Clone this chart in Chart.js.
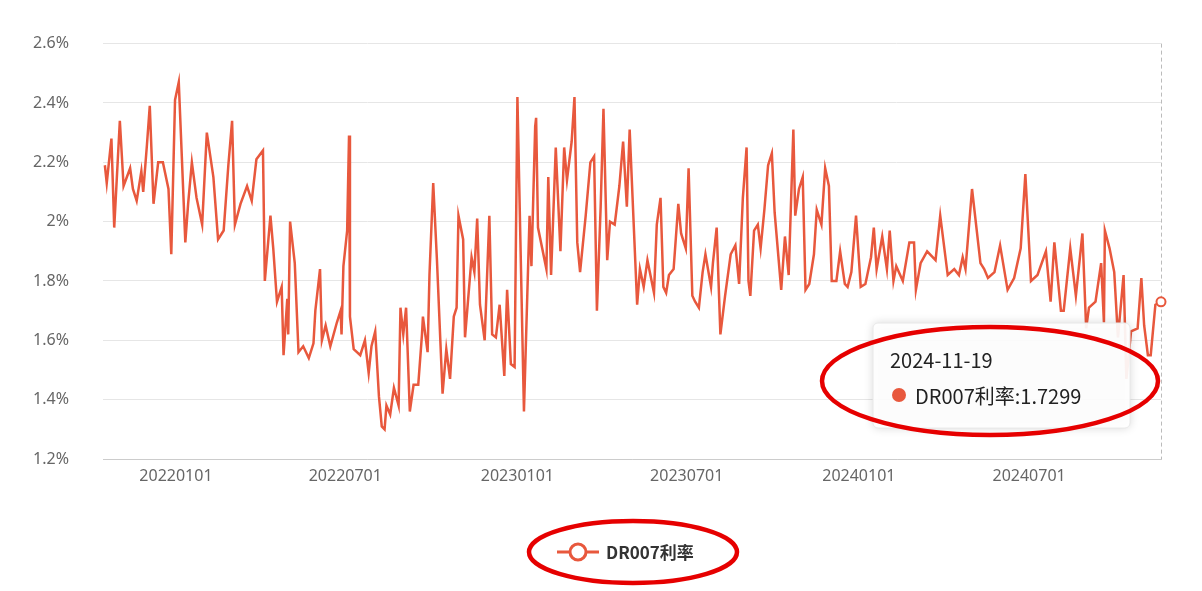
<!DOCTYPE html>
<html>
<head>
<meta charset="utf-8">
<script src="https://cdn.jsdelivr.net/npm/chart.js@4"></script>
<style>
  html, body { margin: 0; padding: 0; background: #fff; }
  #wrap { width: 1202px; height: 591px; }
</style>
</head>
<body>
<div id="wrap"><canvas id="chartDR" width="1202" height="591"></canvas></div>
<script>
const startDate = "2021-10-15";
const seriesName = "DR007利率";
const tickDates = ["20220101", "20220701", "20230101", "20230701", "20240101", "20240701"];
const lastLabel = "2024-11-19";
const lastValue = 1.7299;

// days after startDate
const dayOffsets = [
  2, 4, 9, 12, 18, 22, 29, 32, 36, 41, 43, 47, 50, 54, 59, 64, 70, 73, 77, 81,
  88, 91, 95, 100, 106, 111, 118, 123, 129, 134, 138, 141, 147, 154, 159, 164, 171, 173, 179, 182,
  186, 191, 193, 197, 198, 200, 205, 209, 214, 220, 225, 227, 232, 234, 238, 243, 250, 254, 255, 257,
  261, 263, 264, 268, 275, 280, 284, 287, 291, 295, 298, 301, 303, 307, 311, 316, 318, 321, 324, 328,
  332, 337, 341, 342, 347, 349, 353, 357, 363, 367, 371, 375, 378, 380, 385, 387, 394, 397, 400, 403,
  408, 413, 416, 420, 424, 429, 432, 436, 440, 443, 450, 456, 458, 462, 463, 465, 474, 476, 479, 484,
  489, 493, 496, 501, 504, 507, 510, 516, 521, 525, 528, 532, 535, 539, 542, 547, 552, 556, 560, 563,
  571, 574, 578, 582, 589, 592, 596, 599, 602, 605, 610, 615, 618, 623, 626, 630, 633, 637, 641, 644,
  650, 652, 656, 660, 665, 671, 676, 680, 684, 688, 690, 692, 696, 700, 703, 707, 711, 715, 718, 725,
  729, 733, 738, 740, 744, 748, 751, 755, 760, 763, 768, 772, 776, 779, 784, 788, 793, 796, 800, 805,
  810, 815, 821, 824, 827, 833, 838, 841, 845, 848, 855, 862, 867, 869, 874, 881, 890, 895, 903, 910,
  915, 919, 922, 929, 938, 942, 946, 953, 959, 967, 974, 981, 986, 992, 999, 1008, 1013, 1017, 1024, 1027,
  1034, 1040, 1047, 1051, 1054, 1061, 1067, 1070, 1071, 1076, 1081, 1085, 1091, 1094, 1099, 1106, 1110, 1113, 1117, 1120,
  1125, 1131
];

const rates = [
  2.19, 2.13, 2.28, 1.98, 2.34, 2.12, 2.18, 2.11, 2.07, 2.17, 2.10, 2.26, 2.39, 2.06, 2.20, 2.20, 2.11, 1.89, 2.41, 2.47,
  1.93, 2.06, 2.20, 2.08, 1.99, 2.30, 2.15, 1.94, 1.97, 2.19, 2.34, 1.99, 2.06, 2.12, 2.07, 2.21, 2.24, 1.80, 2.02, 1.91,
  1.73, 1.78, 1.55, 1.74, 1.62, 2.00, 1.86, 1.56, 1.58, 1.54, 1.59, 1.70, 1.84, 1.60, 1.65, 1.58, 1.66, 1.70, 1.62, 1.85,
  1.97, 2.29, 1.68, 1.57, 1.55, 1.60, 1.49, 1.58, 1.63, 1.41, 1.31, 1.30, 1.38, 1.35, 1.44, 1.38, 1.71, 1.62, 1.71, 1.36,
  1.45, 1.45, 1.62, 1.68, 1.56, 1.82, 2.13, 1.87, 1.42, 1.57, 1.47, 1.68, 1.71, 2.02, 1.94, 1.61, 1.88, 1.83, 2.01, 1.72,
  1.60, 2.02, 1.62, 1.61, 1.72, 1.48, 1.77, 1.52, 1.51, 2.42, 1.36, 2.02, 1.85, 2.32, 2.35, 1.98, 1.84, 2.15, 1.82, 2.25,
  1.90, 2.25, 2.14, 2.27, 2.42, 1.93, 1.83, 2.02, 2.20, 2.22, 1.70, 2.05, 2.38, 1.87, 2.00, 1.99, 2.12, 2.27, 2.05, 2.31,
  1.72, 1.84, 1.78, 1.87, 1.76, 1.99, 2.08, 1.78, 1.76, 1.82, 1.84, 2.06, 1.96, 1.91, 2.18, 1.75, 1.73, 1.71, 1.83, 1.89,
  1.78, 1.86, 1.98, 1.62, 1.75, 1.89, 1.92, 1.79, 2.08, 2.25, 1.80, 1.75, 1.97, 1.99, 1.91, 2.04, 2.19, 2.23, 2.03, 1.77,
  1.95, 1.82, 2.31, 2.02, 2.11, 2.15, 1.77, 1.79, 1.89, 2.04, 1.99, 2.18, 2.12, 1.80, 1.80, 1.90, 1.79, 1.78, 1.83, 2.02,
  1.78, 1.79, 1.88, 1.98, 1.84, 1.95, 1.84, 1.97, 1.80, 1.85, 1.80, 1.93, 1.93, 1.77, 1.86, 1.90, 1.87, 2.02, 1.82, 1.84,
  1.82, 1.88, 1.84, 2.11, 1.86, 1.84, 1.81, 1.83, 1.92, 1.77, 1.81, 1.91, 2.16, 1.80, 1.82, 1.90, 1.73, 1.93, 1.70, 1.70,
  1.91, 1.75, 1.96, 1.64, 1.71, 1.73, 1.86, 1.66, 1.97, 1.91, 1.83, 1.61, 1.82, 1.47, 1.63, 1.64, 1.81, 1.65, 1.55, 1.55,
  1.72, lastValue
];

const lineColor = "#e8583d";
const DAY = 86400000;
const t0 = new Date(startDate + "T00:00:00Z").getTime();
function offsetOf(s) {
  const d = Date.UTC(+s.slice(0, 4), +s.slice(4, 6) - 1, +s.slice(6, 8));
  return Math.round((d - t0) / DAY);
}
const tickOffsets = tickDates.map(offsetOf);
const points = dayOffsets.map((d, i) => ({ x: d, y: rates[i] }));
const lastIdx = points.length - 1;

// tooltip, legend and red marks drawn by hand
const overlay = {
  id: "overlay",
  afterDraw(chart) {
    const c = chart.ctx;
    const area = chart.chartArea;
    const px = chart.scales.x.getPixelForValue(points[lastIdx].x);
    const py = chart.scales.y.getPixelForValue(points[lastIdx].y);

    // dashed crosshair
    c.save();
    c.strokeStyle = "#bbb";
    c.setLineDash([4, 3]);
    c.lineWidth = 1;
    c.beginPath();
    c.moveTo(px + 0.5, area.top);
    c.lineTo(px + 0.5, area.bottom);
    c.stroke();
    c.restore();

    // hover point
    c.save();
    c.fillStyle = "#fff";
    c.strokeStyle = lineColor;
    c.lineWidth = 2;
    c.beginPath();
    c.arc(px, py, 4.5, 0, Math.PI * 2);
    c.fill();
    c.stroke();
    c.restore();

    // tooltip box
    const bx = 873, by = 323, bw = 257, bh = 105;
    c.save();
    c.shadowColor = "rgba(0,0,0,0.18)";
    c.shadowBlur = 10;
    c.fillStyle = "rgba(255,255,255,0.92)";
    c.beginPath();
    c.roundRect(bx, by, bw, bh, 5);
    c.fill();
    c.restore();
    c.save();
    c.strokeStyle = "#e8e8e8";
    c.beginPath();
    c.roundRect(bx, by, bw, bh, 5);
    c.stroke();
    c.fillStyle = "#222";
    c.font = "20px 'Noto Sans CJK SC', 'Noto Sans'";
    c.textBaseline = "middle";
    c.fillText(lastLabel, 890, 360);
    c.fillStyle = lineColor;
    c.beginPath();
    c.arc(899, 395, 7, 0, Math.PI * 2);
    c.fill();
    c.fillStyle = "#222";
    c.fillText(seriesName + ":" + lastValue.toFixed(4), 915, 396);
    c.restore();

    // legend
    const lx = 583, ly = 552;
    c.save();
    c.strokeStyle = lineColor;
    c.lineWidth = 3;
    c.beginPath();
    c.moveTo(lx - 26, ly);
    c.lineTo(lx + 16, ly);
    c.stroke();
    c.fillStyle = "#fff";
    c.beginPath();
    c.arc(lx - 5, ly, 8, 0, Math.PI * 2);
    c.fill();
    c.stroke();
    c.fillStyle = "#333";
    c.font = "bold 17px 'Noto Sans CJK SC', 'Noto Sans'";
    c.textBaseline = "middle";
    c.fillText(seriesName, 606, ly + 1);
    c.restore();

    // red ellipses
    c.save();
    c.strokeStyle = "#e60000";
    c.lineWidth = 4.5;
    c.beginPath();
    c.ellipse(990, 381, 168, 54, 0, 0, Math.PI * 2);
    c.stroke();
    c.beginPath();
    c.ellipse(633, 552, 104, 31, 0, 0, Math.PI * 2);
    c.stroke();
    c.restore();
  },
};

new Chart(document.getElementById("chartDR"), {
  type: "line",
  data: {
    datasets: [
      {
        label: seriesName,
        data: points,
        borderColor: lineColor,
        borderWidth: 2.5,
        pointRadius: 0,
        tension: 0,
        fill: false,
      },
    ],
  },
  options: {
    responsive: false,
    animation: false,
    maintainAspectRatio: false,
    layout: { padding: { top: 13, right: 41, left: 0, bottom: 0 } },
    plugins: { legend: { display: false }, tooltip: { enabled: false } },
    scales: {
      x: {
        type: "linear",
        min: 0,
        max: dayOffsets[lastIdx],
        afterFit: (s) => { s.height = 132; },
        afterBuildTicks: (s) => { s.ticks = tickOffsets.map((v) => ({ value: v })); },
        ticks: {
          color: "#666",
          font: { size: 16, family: "'Noto Sans', sans-serif" },
          padding: 8,
          maxRotation: 0,
          callback: (v) => tickDates[tickOffsets.indexOf(v)],
        },
        grid: { display: false, drawTicks: false },
        border: { color: "#ccc" },
      },
      y: {
        min: 1.2,
        max: 2.6,
        afterFit: (s) => { s.width = 103; },
        ticks: {
          stepSize: 0.2,
          color: "#666",
          font: { size: 16, family: "'Noto Sans', sans-serif" },
          padding: 34,
          callback: (v) => parseFloat(v.toFixed(1)) + "%",
        },
        grid: { color: "#e6e6e6", drawTicks: false },
        border: { display: false },
      },
    },
  },
  plugins: [overlay],
});
</script>
</body>
</html>
